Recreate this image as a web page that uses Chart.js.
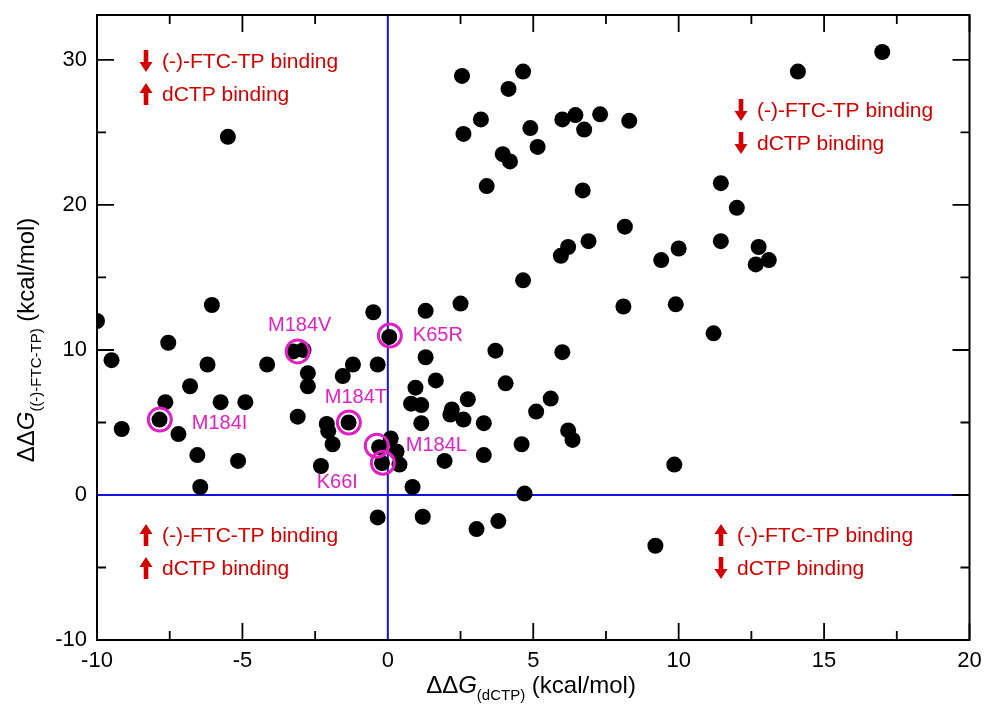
<!DOCTYPE html>
<html>
<head>
<meta charset="utf-8">
<script src="https://cdn.jsdelivr.net/npm/chart.js@4.4.0/dist/chart.umd.min.js"></script>
<style>
  html, body { margin: 0; padding: 0; background: #fff; }
  #wrap { width: 984px; height: 704px; }
</style>
</head>
<body>
<div id="wrap"><canvas id="grafico" width="984" height="704"></canvas></div>
<script>
// Datos
const dCTP = [
  -10.0, -9.5, -9.15, -7.85, -7.65, -7.55, -7.2, -6.8, -6.55, -6.45,
  -6.2, -6.05, -5.75, -5.5, -5.15, -4.9, -4.15, -3.1, -3.25, -2.9,
  -2.75, -2.75, -2.3, -2.1, -2.05, -1.9, -1.35, -1.55, -1.2, -0.5,
  -0.35, 0.05, -0.3, 0.1, 0.3, -0.2, 0.4, -0.35, 0.85, 1.2,
  3.05, 3.8, 4.7, 9.2, 1.3, 2.5, 1.3, 3.7, 6.0, 8.1,
  9.9, 1.65, 0.95, 0.8, 1.15, 4.05, 2.75, 2.2, 2.15, 2.6,
  5.6, 5.1, 3.3, 1.15, 6.2, 6.35, 4.6, 3.3, 1.95, 9.85,
  4.65, 5.95, 6.2, 6.9, 9.4, 10.0, 8.15, 6.7, 3.4, 3.95,
  4.2, 5.15, 2.6, 3.2, 4.9, 6.0, 6.45, 6.75, 7.3, 8.3,
  2.55, 4.15, 4.65, 14.1, 17.0, 11.45, 12.0, 11.45, 12.75, 12.65,
  13.1, 11.2
];
const ftcTP = [
  12.0, 9.3, 4.55, 5.2, 6.4, 10.5, 4.2, 7.5, 2.75, 0.55,
  9.0, 13.1, 6.4, 24.7, 2.35, 6.4, 9.0, 5.4, 9.9, 10.0,
  8.4, 7.5, 2.0, 4.9, 4.4, 3.5, 5.0, 8.2, 9.0, 12.6,
  9.0, 10.9, 3.3, 3.9, 3.0, 2.2, 2.1, -1.55, 0.55, -1.5,
  -2.35, -1.8, 0.1, -3.5, 12.7, 13.2, 9.5, 9.95, 9.85, 13.0,
  13.15, 7.9, 7.4, 6.3, 6.2, 7.7, 6.6, 5.9, 5.55, 5.2,
  6.65, 5.75, 4.95, 4.95, 4.45, 3.8, 3.5, 2.75, 2.35, 2.1,
  14.8, 16.5, 17.1, 17.5, 16.2, 17.0, 18.5, 21.0, 21.3, 23.5,
  23.0, 24.0, 24.9, 25.9, 25.3, 25.9, 26.2, 25.2, 26.25, 25.8,
  28.9, 28.0, 29.2, 29.2, 30.55, 21.5, 19.8, 17.5, 17.1, 15.9,
  16.2, 11.15
];
const mutantes = ['M184V', 'K65R', 'M184T', 'M184I', 'M184L', 'K66I'];
const mutX = [-3.1, 0.07, -1.34, -7.84, -0.38, -0.17];
const mutY = [9.9, 11.0, 5.0, 5.2, 3.4, 2.22];
const xTicks = [-10, -5, 0, 5, 10, 15, 20];
const yTicks = [-10, 0, 10, 20, 30];
// textos de cada cuadrante: flecha + texto
const cuadrantes = [
  [['down', '(-)-FTC-TP binding'], ['up', 'dCTP binding']],
  [['down', '(-)-FTC-TP binding'], ['down', 'dCTP binding']],
  [['up', '(-)-FTC-TP binding'], ['up', 'dCTP binding']],
  [['up', '(-)-FTC-TP binding'], ['down', 'dCTP binding']]
];

const FUENTE = '"Liberation Sans", Arial, Helvetica, sans-serif';
const MAGENTA = '#e020c4';
const ROJO = '#d40000';
const AZUL = '#1414d8';

const puntos = dCTP.map((x, i) => ({ x: x, y: ftcTP[i] }));
const circulos = mutX.map((x, i) => ({ x: x, y: mutY[i] }));

function flecha(ctx, x, yc, dir) {
  const h = 22, hw = 6.5, hh = 10, sw = 2.3;
  ctx.save();
  ctx.fillStyle = ROJO;
  ctx.translate(x, yc);
  if (dir !== 'up') ctx.scale(1, -1);
  const top = -h / 2, bot = h / 2;
  ctx.beginPath();
  ctx.moveTo(0, top);
  ctx.lineTo(hw, top + hh);
  ctx.lineTo(sw, top + hh);
  ctx.lineTo(sw, bot);
  ctx.lineTo(-sw, bot);
  ctx.lineTo(-sw, top + hh);
  ctx.lineTo(-hw, top + hh);
  ctx.closePath();
  ctx.fill();
  ctx.restore();
}

function textoRico(ctx, partes, cx, base) {
  let total = 0;
  partes.forEach(p => { ctx.font = p.f; total += ctx.measureText(p.t).width; });
  let x = cx - total / 2;
  ctx.textAlign = 'left';
  ctx.textBaseline = 'alphabetic';
  partes.forEach(p => {
    ctx.font = p.f;
    ctx.fillText(p.t, x, base + (p.dy || 0));
    x += ctx.measureText(p.t).width;
  });
}

// sin relleno extra por las etiquetas de los extremos
function sinRelleno(s) {
  s.paddingTop = 0; s.paddingBottom = 0; s.paddingLeft = 0; s.paddingRight = 0;
}

const decoraciones = {
  id: 'decoraciones',
  afterDraw(chart) {
    const ctx = chart.ctx;
    const a = chart.chartArea;
    const sx = chart.scales.x, sy = chart.scales.y;
    ctx.save();

    // marco
    ctx.strokeStyle = '#000';
    ctx.lineWidth = 2;
    ctx.strokeRect(a.left, a.top, a.right - a.left, a.bottom - a.top);

    // marcas hacia adentro (las del cero quedan tapadas por la linea azul)
    ctx.lineWidth = 1.8;
    ctx.beginPath();
    for (let v = -10; v <= 20; v += 2.5) {
      if (v === 0) continue;
      const px = sx.getPixelForValue(v);
      const l = (v % 5 === 0) ? 17 : 9;
      ctx.moveTo(px, a.bottom); ctx.lineTo(px, a.bottom - l);
      ctx.moveTo(px, a.top); ctx.lineTo(px, a.top + l);
    }
    for (let v = -10; v <= 30; v += 5) {
      const py = sy.getPixelForValue(v);
      const l = (v % 10 === 0) ? 17 : 9;
      if (v !== 0) { ctx.moveTo(a.left, py); ctx.lineTo(a.left + l, py); }
      ctx.moveTo(a.right, py); ctx.lineTo(a.right - l, py);
    }
    ctx.stroke();

    // etiquetas de mutantes
    const offs = {
      'M184V': [2, -26, 'center'],
      'K65R': [23, 0, 'left'],
      'M184T': [7, -25, 'center'],
      'M184I': [32, 4, 'left'],
      'M184L': [29, 0, 'left'],
      'K66I': [-25, 20, 'right']
    };
    ctx.fillStyle = MAGENTA;
    ctx.font = '20px ' + FUENTE;
    ctx.textBaseline = 'middle';
    mutantes.forEach((m, i) => {
      const o = offs[m];
      ctx.textAlign = o[2];
      ctx.fillText(m, sx.getPixelForValue(mutX[i]) + o[0], sy.getPixelForValue(mutY[i]) + o[1]);
    });

    // textos de cuadrantes
    const pos = [[146, 162, 61], [741, 757, 110], [146, 162, 535], [721, 737, 535]];
    ctx.font = '21px ' + FUENTE;
    ctx.textAlign = 'left';
    cuadrantes.forEach((c, i) => {
      const p = pos[i];
      c.forEach((linea, j) => {
        const y = p[2] + j * 33;
        flecha(ctx, p[0], y, linea[0]);
        ctx.fillStyle = ROJO;
        ctx.textBaseline = 'middle';
        ctx.fillText(linea[1], p[1], y + 1);
      });
    });

    // titulos de ejes
    ctx.fillStyle = '#000';
    textoRico(ctx, [
      { t: '\u0394\u0394', f: '24px ' + FUENTE },
      { t: 'G', f: 'italic 24px ' + FUENTE },
      { t: '(dCTP)', f: '15px ' + FUENTE, dy: 7 },
      { t: ' (kcal/mol)', f: '24px ' + FUENTE }
    ], 531, 693);

    ctx.save();
    ctx.translate(34, 340);
    ctx.rotate(-Math.PI / 2);
    textoRico(ctx, [
      { t: '\u0394\u0394', f: '24px ' + FUENTE },
      { t: 'G', f: 'italic 24px ' + FUENTE },
      { t: '((-)-FTC-TP)', f: '15px ' + FUENTE, dy: 7 },
      { t: ' (kcal/mol)', f: '24px ' + FUENTE }
    ], 0, 0);
    ctx.restore();

    ctx.restore();
  }
};

new Chart(document.getElementById('grafico'), {
  type: 'scatter',
  data: {
    datasets: [
      {
        type: 'line',
        data: [{ x: 0, y: -10 }, { x: 0, y: 33.1 }],
        borderColor: AZUL, borderWidth: 2, pointRadius: 0, fill: false, order: 3
      },
      {
        type: 'line',
        data: [{ x: -10, y: 0 }, { x: 20, y: 0 }],
        borderColor: AZUL, borderWidth: 2, pointRadius: 0, fill: false, order: 3
      },
      {
        data: puntos,
        backgroundColor: '#000', borderWidth: 0, pointRadius: 8, order: 2
      },
      {
        data: circulos,
        backgroundColor: 'rgba(0,0,0,0)', borderColor: MAGENTA, borderWidth: 3,
        pointRadius: 11.5, order: 1
      }
    ]
  },
  options: {
    responsive: false,
    animation: false,
    layout: { padding: { top: 15, right: 13, left: 0, bottom: 0 } },
    plugins: { legend: { display: false }, tooltip: { enabled: false } },
    scales: {
      x: {
        type: 'linear', min: -10, max: 20,
        afterBuildTicks: s => { s.ticks = xTicks.map(v => ({ value: v })); },
        afterFit: s => { s.height = 64; sinRelleno(s); },
        grid: { display: false, drawTicks: false },
        border: { display: false },
        ticks: { color: '#000', font: { family: FUENTE, size: 22 }, padding: 8, maxRotation: 0, autoSkip: false }
      },
      y: {
        type: 'linear', min: -10, max: 33.1,
        afterBuildTicks: s => { s.ticks = yTicks.map(v => ({ value: v })); },
        afterFit: s => { s.width = 97; sinRelleno(s); },
        grid: { display: false, drawTicks: false },
        border: { display: false },
        ticks: { color: '#000', font: { family: FUENTE, size: 22 }, padding: 10, autoSkip: false }
      }
    }
  },
  plugins: [decoraciones]
});
</script>
</body>
</html>
